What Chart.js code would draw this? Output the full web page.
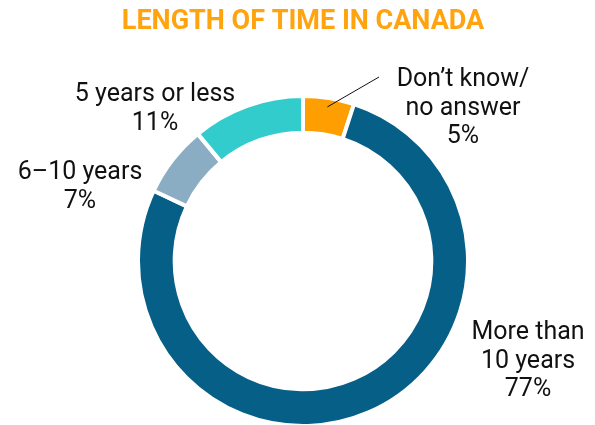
<!DOCTYPE html>
<html>
<head>
<meta charset="utf-8">
<script src="https://cdn.jsdelivr.net/npm/chart.js@4.4.1/dist/chart.umd.min.js"></script>
<style>
  html, body { margin: 0; padding: 0; background: #fff; }
  #wrap { width: 595px; height: 425px; }
</style>
</head>
<body>
<div id="wrap"><canvas id="chartCanada"></canvas></div>
<script>
const categories = ['Don’t know/no answer', 'More than 10 years', '6–10 years', '5 years or less'];
const labelLines = [['Don’t know/', 'no answer'], ['More than', '10 years'], ['6–10 years'], ['5 years or less']];
const shares = [5, 77, 7, 11];

const sliceColors = ['#FF9E00', '#055F87', '#8AADC4', '#33CCCC'];

// where each label block sits, relative to the doughnut centre (first baseline)
const labelPlace = [
  { dx: 160, dy: -175, lead: { r: 156, dx: 76, dy: -184 } },
  { dx: 225, dy: 78 },
  { dx: -223, dy: -82 },
  { dx: -148, dy: -160 }
];

const sliceLabels = {
  id: 'sliceLabels',
  afterDatasetsDraw(chart) {
    const ctx = chart.ctx;
    const arcs = chart.getDatasetMeta(0).data;
    ctx.save();
    ctx.font = '25px Roboto';
    ctx.fillStyle = '#111';
    ctx.textAlign = 'center';
    ctx.textBaseline = 'alphabetic';
    arcs.forEach((arc, i) => {
      const p = labelPlace[i];
      const cx = arc.x, cy = arc.y;
      const lines = labelLines[i].concat([shares[i] + '%']);
      lines.forEach((t, j) => {
        ctx.fillText(t, cx + p.dx, cy + p.dy + j * 28.5);
      });
      if (p.lead) {
        const mid = (arc.startAngle + arc.endAngle) / 2;
        ctx.strokeStyle = '#111';
        ctx.lineWidth = 1;
        ctx.beginPath();
        ctx.moveTo(cx + Math.cos(mid) * p.lead.r, cy + Math.sin(mid) * p.lead.r);
        ctx.lineTo(cx + p.lead.dx, cy + p.lead.dy);
        ctx.stroke();
      }
    });
    ctx.restore();
  }
};

const chart = new Chart(
  document.getElementById('chartCanada'),
  {
    type: 'doughnut',
    data: {
      labels: categories,
      datasets: [{
        data: shares,
        backgroundColor: sliceColors,
        borderColor: '#fff',
        borderWidth: 4,
        hoverOffset: 0,
        radius: 165,
        cutout: 126
      }]
    },
    options: {
      responsive: true,
      maintainAspectRatio: false,
      animation: false,
      layout: {
        padding: { left: 11, right: 0, top: 0, bottom: 0 }
      },
      plugins: {
        legend: { display: false },
        tooltip: { enabled: false },
        title: {
          display: true,
          text: 'LENGTH OF TIME IN CANADA',
          color: '#FFA30F',
          font: { family: 'Roboto', size: 27, weight: 'bold', lineHeight: 1.2 },
          padding: { top: 6, bottom: 58.6 }
        }
      }
    },
    plugins: [sliceLabels]
  });
</script>
</body>
</html>
